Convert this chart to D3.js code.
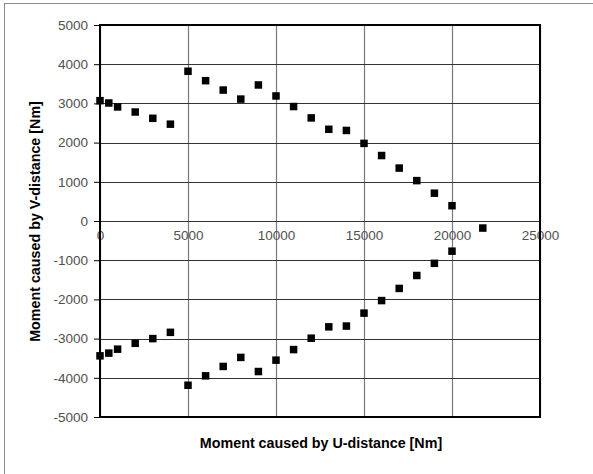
<!DOCTYPE html>
<html>
<head>
<meta charset="utf-8">
<script src="https://cdn.jsdelivr.net/npm/d3@7"></script>
<style>
  body { margin: 0; background: #fff; }
  text { font-family: "Liberation Sans", Arial, sans-serif; }
</style>
</head>
<body>
<div class="canvas"></div>
<script>
// data
const xTicks = [0, 5000, 10000, 15000, 20000, 25000];
const yTicks = [5000, 4000, 3000, 2000, 1000, 0, -1000, -2000, -3000, -4000, -5000];

const upperU = [0, 500, 1000, 2000, 3000, 4000, 5000, 6000, 7000, 8000, 9000, 10000, 11000,
  12000, 13000, 14000, 15000, 16000, 17000, 18000, 19000, 20000, 21750];
const upperV = [3070, 3010, 2910, 2780, 2620, 2470, 3820, 3580, 3340, 3110, 3470, 3190, 2920,
  2630, 2340, 2310, 1980, 1670, 1350, 1030, 710, 390, -180];

const lowerU = [0, 500, 1000, 2000, 3000, 4000, 5000, 6000, 7000, 8000, 9000, 10000, 11000,
  12000, 13000, 14000, 15000, 16000, 17000, 18000, 19000, 20000];
const lowerV = [-3440, -3370, -3270, -3120, -3000, -2840, -4190, -3950, -3710, -3480, -3840, -3550, -3280,
  -2990, -2700, -2680, -2350, -2030, -1720, -1390, -1080, -770];

const svg = d3.select('.canvas')
  .append('svg')
  .attr('width', 593)
  .attr('height', 474);

// outer chart frame (only top and left are visible)
svg.append('rect')
  .attr('x', 4.5)
  .attr('y', 3.5)
  .attr('width', 620)
  .attr('height', 500)
  .attr('fill', 'none')
  .attr('stroke', '#8a8a8a');

const margin = { top: 25, right: 53, bottom: 57, left: 100 };
const graphWidth = 593 - margin.left - margin.right;
const graphHeight = 474 - margin.top - margin.bottom;

const graph = svg.append('g')
  .attr('transform', `translate(${margin.left},${margin.top})`);

const x = d3.scaleLinear().domain([0, 25000]).range([0, graphWidth]);
const y = d3.scaleLinear().domain([-5000, 5000]).range([graphHeight, 0]);

// gridlines
graph.append('g')
  .selectAll('line')
  .data(xTicks)
  .enter()
  .append('line')
  .attr('x1', d => Math.round(x(d)) + 0.5)
  .attr('x2', d => Math.round(x(d)) + 0.5)
  .attr('y1', 0)
  .attr('y2', graphHeight)
  .attr('stroke', '#7a7a7a')
  .attr('stroke-width', 1.2);

graph.append('g')
  .selectAll('line')
  .data(yTicks)
  .enter()
  .append('line')
  .attr('x1', 0)
  .attr('x2', graphWidth)
  .attr('y1', d => Math.round(y(d)) + 0.5)
  .attr('y2', d => Math.round(y(d)) + 0.5)
  .attr('stroke', '#333')
  .attr('stroke-width', 1.2);

// y axis with outside ticks
const yAxis = d3.axisLeft(y)
  .tickValues(yTicks)
  .tickSize(6)
  .tickPadding(6)
  .tickFormat(d => String(d));

const yAxisGroup = graph.append('g').call(yAxis);
yAxisGroup.select('.domain').remove();
yAxisGroup.selectAll('line').attr('stroke', '#000');
yAxisGroup.selectAll('text')
  .attr('fill', '#505050')
  .style('font-size', '13.5px')
  .style('font-family', '"Liberation Sans", Arial, sans-serif');

// x labels sit on the zero line
const xAxis = d3.axisBottom(x)
  .tickValues(xTicks)
  .tickSize(0)
  .tickPadding(9)
  .tickFormat(d => String(d));

const xAxisGroup = graph.append('g')
  .attr('transform', `translate(0,${y(0)})`)
  .call(xAxis);
xAxisGroup.select('.domain').remove();
xAxisGroup.selectAll('text')
  .attr('fill', '#505050')
  .style('font-size', '13.5px')
  .style('font-family', '"Liberation Sans", Arial, sans-serif');

// plot border
graph.append('rect')
  .attr('x', 0)
  .attr('y', 0)
  .attr('width', graphWidth)
  .attr('height', graphHeight)
  .attr('fill', 'none')
  .attr('stroke', '#000')
  .attr('stroke-width', 2);

// markers
const size = 7.5;
const upper = upperU.map((u, i) => ({ u, v: upperV[i] }));
const lower = lowerU.map((u, i) => ({ u, v: lowerV[i] }));

graph.append('g')
  .selectAll('rect')
  .data(upper.concat(lower))
  .enter()
  .append('rect')
  .attr('x', d => x(d.u) - size / 2)
  .attr('y', d => y(d.v) - size / 2)
  .attr('width', size)
  .attr('height', size)
  .attr('fill', '#000');

// axis titles
svg.append('text')
  .attr('x', 321)
  .attr('y', 447.5)
  .attr('text-anchor', 'middle')
  .style('font-size', '14.3px')
  .style('font-weight', 'bold')
  .text('Moment caused by U-distance [Nm]');

svg.append('text')
  .attr('transform', 'translate(40,221.5) rotate(-90)')
  .attr('text-anchor', 'middle')
  .style('font-size', '14.3px')
  .style('font-weight', 'bold')
  .text('Moment caused by V-distance [Nm]');
</script>
</body>
</html>
